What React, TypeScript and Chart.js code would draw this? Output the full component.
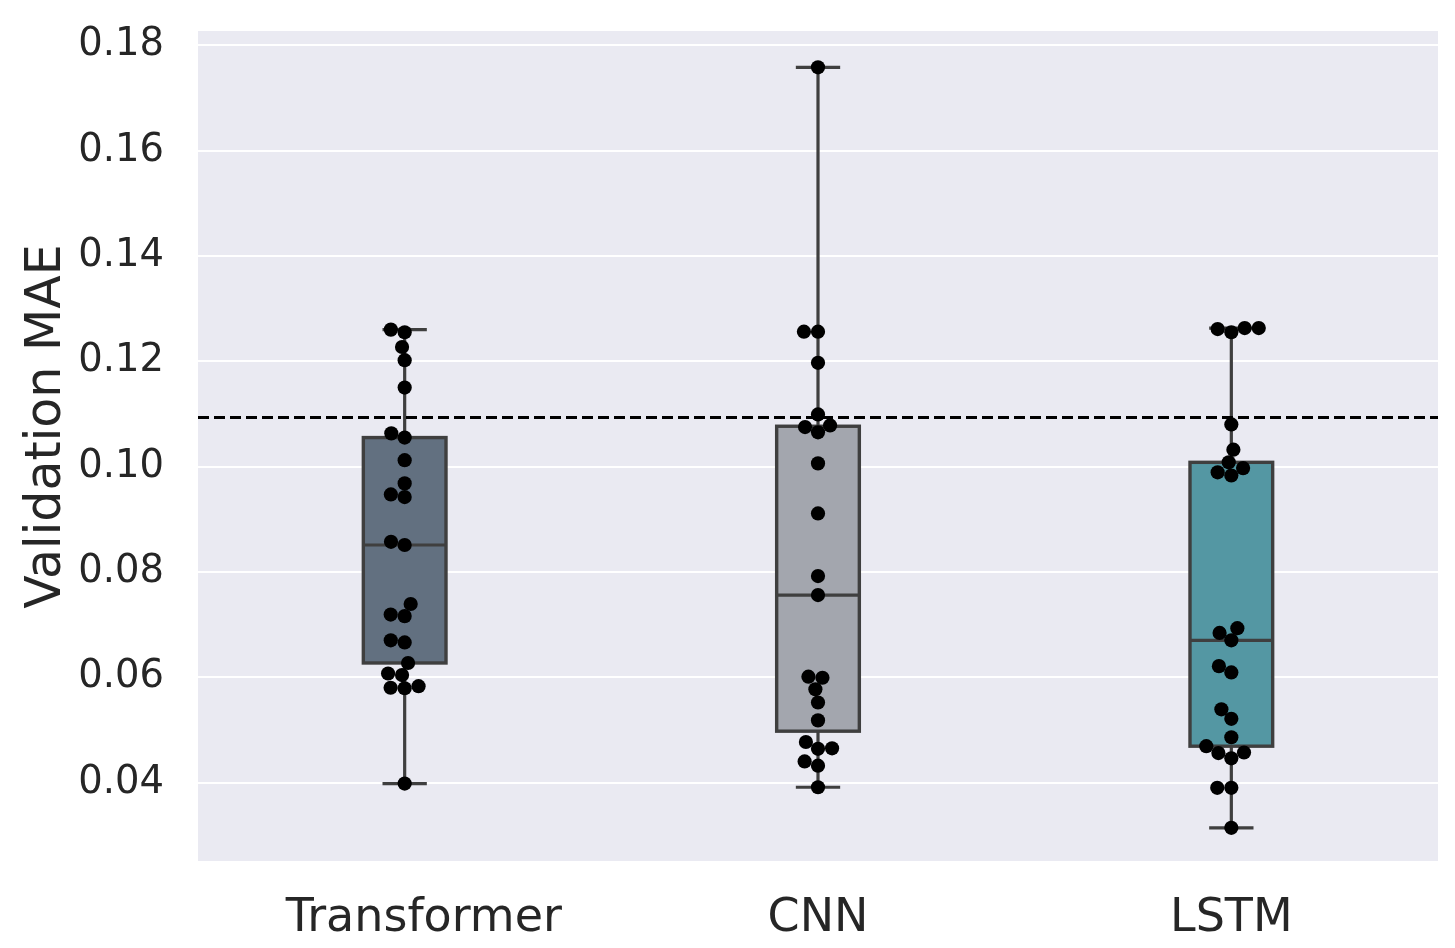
import React, { useEffect, useRef } from "react";
import { Chart, registerables } from "chart.js";

Chart.register(...registerables);

const CATEGORIES = ["Transformer", "CNN", "LSTM"];
// tick labels as printed (the first one carries leading spacing in the source figure)
const X_TICK_LABELS = ["\u00a0\u00a0\u2009Transformer", "CNN", "LSTM"];

const TRANSFORMER_MAE = [
  0.126, 0.1255, 0.1227, 0.1202, 0.115, 0.1063, 0.1055, 0.1012, 0.0968, 0.0947,
  0.0942, 0.0857, 0.0851, 0.0739, 0.0719, 0.0716, 0.067, 0.0666, 0.0627, 0.0607,
  0.0604, 0.058, 0.0579, 0.0583, 0.0398,
];
const CNN_MAE = [
  0.1758, 0.1256, 0.1256, 0.1197, 0.1099, 0.1075, 0.1078, 0.1065, 0.1006, 0.0911,
  0.0792, 0.0756, 0.0601, 0.0599, 0.0577, 0.0552, 0.0518, 0.0477, 0.0464, 0.0465,
  0.044, 0.0432, 0.0391,
];
const LSTM_MAE = [
  0.1263, 0.1255, 0.1261, 0.1263, 0.108, 0.1032, 0.1008, 0.0989, 0.0983, 0.0997,
  0.0693, 0.0684, 0.067, 0.0621, 0.0609, 0.0539, 0.0521, 0.0486, 0.0469, 0.0456,
  0.0446, 0.0457, 0.039, 0.039, 0.0314,
];
const SERIES = [TRANSFORMER_MAE, CNN_MAE, LSTM_MAE];
const BOX_COLORS = ["#627080", "#a3a6ae", "#5497a3"];
const Y_TICKS = [0.04, 0.06, 0.08, 0.1, 0.12, 0.14, 0.16, 0.18];
const X_TICKS = [0, 1, 2];
const Y_MIN = 0.0251;
const Y_MAX = 0.1827;
const BASELINE_MAE = 0.1093;
const Y_TITLE = "Validation MAE";
const BOX_WIDTH = 0.2; // in category units

const EDGE = "#3f3f3f";
const TEXT = "#262626";
const BG = "#eaeaf2";
const POINT_R = 7.1;
const SWARM_R = 6.7;
const FONT = "DejaVu Sans";

function quantile(sorted: number[], q: number) {
  const pos = (sorted.length - 1) * q;
  const lo = Math.floor(pos);
  const hi = Math.ceil(pos);
  return sorted[lo] + (sorted[hi] - sorted[lo]) * (pos - lo);
}

function boxStats(values: number[]) {
  const s = [...values].sort((a, b) => a - b);
  const q1 = quantile(s, 0.25);
  const med = quantile(s, 0.5);
  const q3 = quantile(s, 0.75);
  const iqr = q3 - q1;
  const lo = s.find((v) => v >= q1 - 1.5 * iqr) as number;
  const hi = [...s].reverse().find((v) => v <= q3 + 1.5 * iqr) as number;
  return { q1, med, q3, lo, hi };
}

const STATS = SERIES.map(boxStats);

// seaborn-like beeswarm in pixel space
function beeswarm(ys: number[], cx: number, r: number): number[] {
  const order = ys.map((_, i) => i).sort((a, b) => ys[b] - ys[a]);
  const placed: { x: number; y: number }[] = [];
  const result: number[] = new Array(ys.length);
  for (const idx of order) {
    const y = ys[idx];
    const neighbors: { x: number; y: number }[] = [];
    for (let k = placed.length - 1; k >= 0; k--) {
      if (Math.abs(y - placed[k].y) < 2 * r) neighbors.push(placed[k]);
      else break;
    }
    const cands: number[] = [cx];
    for (const n of neighbors) {
      const dy = y - n.y;
      const dx = Math.sqrt(Math.max(4 * r * r - dy * dy, 0)) * 1.05;
      cands.push(n.x - dx, n.x + dx);
    }
    const sorted = cands
      .map((x, i) => ({ x, i }))
      .sort((a, b) => Math.abs(a.x - cx) - Math.abs(b.x - cx) || a.i - b.i);
    let chosen = cx;
    for (const c of sorted) {
      const ok = neighbors.every((n) => (n.x - c.x) ** 2 + (n.y - y) ** 2 >= 4 * r * r - 1e-6);
      if (ok) {
        chosen = c.x;
        break;
      }
    }
    placed.push({ x: chosen, y });
    result[idx] = chosen;
  }
  return result;
}

const boxPlugin = {
  id: "boxExtras",
  beforeDraw(chart: any) {
    const { ctx, chartArea } = chart;
    ctx.save();
    ctx.fillStyle = BG;
    ctx.fillRect(chartArea.left, chartArea.top, chartArea.right - chartArea.left, chartArea.bottom - chartArea.top);
    ctx.restore();
  },
  beforeDatasetsDraw(chart: any) {
    const { ctx, chartArea } = chart;
    const x = chart.scales.x;
    const y = chart.scales.y;
    ctx.save();
    STATS.forEach((s, i) => {
      const cx = x.getPixelForValue(i);
      const hw = (x.getPixelForValue(i + BOX_WIDTH / 2) - x.getPixelForValue(i - BOX_WIDTH / 2)) / 2;
      const yq1 = y.getPixelForValue(s.q1);
      const yq3 = y.getPixelForValue(s.q3);
      const ymed = y.getPixelForValue(s.med);
      const ylo = y.getPixelForValue(s.lo);
      const yhi = y.getPixelForValue(s.hi);
      ctx.fillStyle = BOX_COLORS[i];
      ctx.fillRect(cx - hw, yq3, 2 * hw, yq1 - yq3);
      ctx.strokeStyle = EDGE;
      ctx.lineWidth = 3.2;
      ctx.lineCap = "butt";
      ctx.beginPath();
      ctx.moveTo(cx, yq3);
      ctx.lineTo(cx, yhi);
      ctx.moveTo(cx, yq1);
      ctx.lineTo(cx, ylo);
      ctx.moveTo(cx - hw / 2 - 1.5, yhi);
      ctx.lineTo(cx + hw / 2 + 1.5, yhi);
      ctx.moveTo(cx - hw / 2 - 1.5, ylo);
      ctx.lineTo(cx + hw / 2 + 1.5, ylo);
      ctx.moveTo(cx - hw, ymed);
      ctx.lineTo(cx + hw, ymed);
      ctx.stroke();
      ctx.lineWidth = 3.4;
      ctx.strokeRect(cx - hw, yq3, 2 * hw, yq1 - yq3);
    });
    const yb = y.getPixelForValue(BASELINE_MAE);
    ctx.strokeStyle = "#000";
    ctx.lineWidth = 3;
    ctx.setLineDash([11, 5]);
    ctx.beginPath();
    ctx.moveTo(chartArea.left, yb);
    ctx.lineTo(chartArea.right, yb);
    ctx.stroke();
    ctx.restore();
  },
  afterDraw(chart: any) {
    const { ctx, chartArea } = chart;
    ctx.save();
    ctx.fillStyle = TEXT;
    ctx.font = `49px "${FONT}"`;
    ctx.textAlign = "center";
    ctx.textBaseline = "alphabetic";
    ctx.translate(60, chartArea.top + (chartArea.bottom - chartArea.top) / 2 - 19.5);
    ctx.rotate(-Math.PI / 2);
    ctx.fillText(Y_TITLE, 0, 0);
    ctx.restore();
  },
};

export default function App() {
  const ref = useRef<HTMLCanvasElement | null>(null);
  useEffect(() => {
    document.body.style.margin = "0";
    const canvas = ref.current;
    if (!canvas) return;
    const pointData = SERIES.flatMap((vals, i) => vals.map((v) => ({ x: i, y: v })));
    const chart = new Chart(canvas, {
      type: "scatter",
      data: {
        datasets: [
          {
            label: "MAE",
            data: pointData as any,
            pointRadius: POINT_R,
            pointBackgroundColor: "#000",
            pointBorderWidth: 0,
          } as any,
        ],
      },
      options: {
        responsive: false,
        animation: false,
        events: [],
        layout: { padding: { left: 0, top: 31, right: 17, bottom: 0 } },
        plugins: { legend: { display: false }, tooltip: { enabled: false } },
        scales: {
          x: {
            type: "linear",
            min: -0.5,
            max: 2.5,
            grid: { display: false, drawTicks: false },
            border: { display: false },
            afterBuildTicks: (s: any) => {
              s.ticks = X_TICKS.map((v) => ({ value: v }));
            },
            ticks: {
              color: TEXT,
              font: { family: FONT, size: 46 },
              padding: 30,
              autoSkip: false,
              maxRotation: 0,
              callback: (_v: any, i: number) => X_TICK_LABELS[i] ?? CATEGORIES[i],
            },
            afterFit: (s: any) => {
              s.height = 87;
              s.paddingLeft = 0;
              s.paddingRight = 0;
            },
          },
          y: {
            type: "linear",
            min: Y_MIN,
            max: Y_MAX,
            grid: { color: "#ffffff", lineWidth: 2, drawTicks: false },
            border: { display: false },
            afterBuildTicks: (s: any) => {
              s.ticks = Y_TICKS.map((v) => ({ value: v }));
            },
            ticks: {
              color: TEXT,
              font: { family: FONT, size: 38.5 },
              padding: 34,
              callback: (v: any) => Number(v).toFixed(2),
            },
            afterFit: (s: any) => {
              s.width = 198;
              s.paddingTop = 0;
              s.paddingBottom = 0;
            },
          },
        },
      },
      plugins: [boxPlugin],
    });
    // swarm layout through the chart's own scales
    const ys = chart.scales.y;
    const xs = chart.scales.x;
    const swarmData = SERIES.flatMap((vals, i) => {
      const py = vals.map((v) => ys.getPixelForValue(v));
      const cx = xs.getPixelForValue(i);
      const px = beeswarm(py, cx, SWARM_R);
      return vals.map((v, k) => ({ x: xs.getValueForPixel(px[k]), y: v }));
    });
    (chart.data.datasets[0] as any).data = swarmData;
    chart.update();
    return () => chart.destroy();
  }, []);
  return <canvas ref={ref} width={1455} height={948} style={{ display: "block" }} />;
}
